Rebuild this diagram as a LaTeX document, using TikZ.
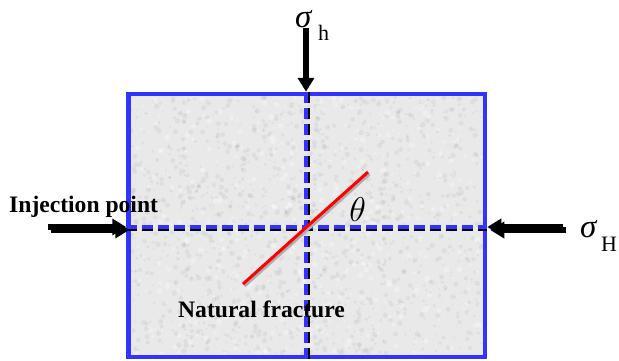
\documentclass[tikz,border=0pt]{standalone}
\usepackage{fontspec}
\setmainfont{Liberation Serif}
\usetikzlibrary{arrows.meta}
\definecolor{rockblue}{HTML}{3333FF}
\definecolor{rockfill}{HTML}{E9E9E9}
\definecolor{shade}{HTML}{8C8C8C}
\tikzset{
  lbl/.style={inner sep=0pt, anchor=base west, font=\fontsize{23.6}{26}\selectfont\bfseries},
  sig/.style={inner sep=0pt, anchor=base west, font=\fontsize{33}{36}\selectfont\itshape},
  sub/.style={inner sep=0pt, anchor=base west, font=\fontsize{22}{24}\selectfont},
  bigarrow/.style={line width=5.5pt, -{Triangle[length=14pt,width=16pt]}},
  dashline/.style={rockblue, line width=4pt, dash pattern=on 11pt off 5pt},
  dashshade/.style={shade, line width=4pt, dash pattern=on 11pt off 5pt},
}
\begin{document}
\begin{tikzpicture}[x=1pt,y=-1pt]
\useasboundingbox (0,0) rectangle (619,360);
% rock block
\fill[rockfill] (128.5,94) rectangle (485,357);
\pgfmathsetseed{7}
\foreach \i in {1,...,1400}{
  \pgfmathsetmacro{\px}{131+rnd*351}
  \pgfmathsetmacro{\py}{97+rnd*257}
  \pgfmathsetmacro{\pr}{0.8+rnd*2}
  \fill[black,opacity=0.045] (\px,\py) circle (\pr);
}
\foreach \i in {1,...,500}{
  \pgfmathsetmacro{\px}{131+rnd*351}
  \pgfmathsetmacro{\py}{97+rnd*257}
  \pgfmathsetmacro{\pr}{1+rnd*2}
  \fill[white,opacity=0.3] (\px,\py) circle (\pr);
}
\node[draw=rockblue, line width=4.5pt, minimum width=356.5pt, minimum height=263pt, inner sep=0pt] (rock) at (306.75,225.5) {};
% axes
\coordinate (hl) at (rock.west |- 0,227);
\coordinate (hr) at (rock.east |- 0,227);
\coordinate (vt) at (306,0 |- rock.north);
\coordinate (vb) at (306,0 |- rock.south);
\draw[dashshade] ([shift={(0,2)}]hl) -- ([shift={(0,2)}]hr);
\draw[dashshade] ([shift={(2,0)}]vt) -- ([shift={(2,0)}]vb);
\draw[dashline] (hl) -- (hr);
\draw[dashline] (vt) -- (vb);
% fracture
\coordinate (f1) at (243,284);
\coordinate (f2) at (368,172);
\draw[shade!70, line width=3pt] ([shift={(1.5,2)}]f1) -- ([shift={(1.5,2)}]f2);
\draw[red, line width=3pt] (f1) -- (f2);
% arrows
\coordinate (inj) at (48,227);
\coordinate (sHt) at (563,227);
\coordinate (sht) at (306,28);
\draw[bigarrow, shade] ([shift={(3,3)}]inj) -- ([shift={(3,3)}]hl);
\draw[bigarrow, shade] ([shift={(3,3)}]sHt) -- ([shift={(3,3)}]hr);
\draw[bigarrow] (inj) -- (hl);
\draw[bigarrow] (sHt) -- (hr);
\draw[bigarrow] (sht) -- (vt);
% labels
\node[lbl] (injlbl) at (9,212) {Injection point};
\node[lbl] (natlbl) at (178,317) {Natural fracture};
\node[sig] (sh) at (295,27) {σ};
\node[sub] (shs) at (318,40) {h};
\node[sig] (sH) at (580,237) {σ};
\node[sub] (sHs) at (601,251) {H};
\node[inner sep=0pt, anchor=base west, scale=1.38, font=\fontsize{24.88}{28}\selectfont] (th) at (349,221) {$\theta$};
\end{tikzpicture}
\end{document}
